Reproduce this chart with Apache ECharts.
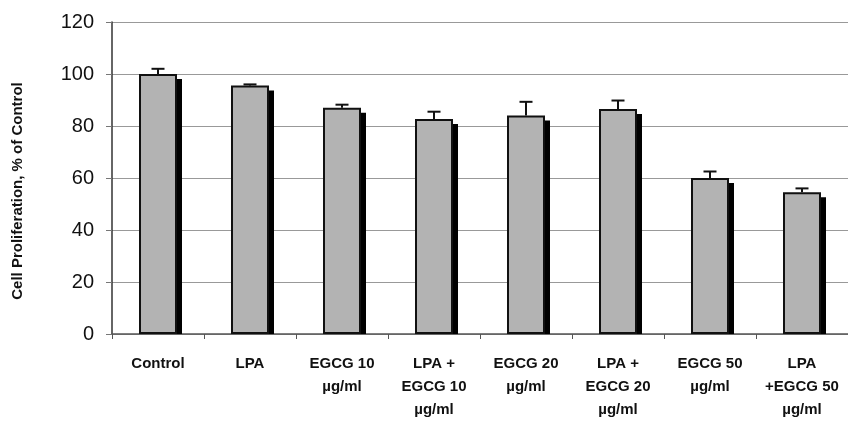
<!DOCTYPE html>
<html><head><meta charset="utf-8">
<script src="https://cdn.jsdelivr.net/npm/echarts@6/dist/echarts.min.js"></script>
<style>html,body{margin:0;padding:0;background:#fff}#c{width:848px;height:421px}</style>
</head><body><div id="c"></div>
<script>
const categories = ['Control','LPA','EGCG 10\nµg/ml','LPA +\nEGCG 10\nµg/ml','EGCG 20\nµg/ml','LPA +\nEGCG 20\nµg/ml','EGCG 50\nµg/ml','LPA\n+EGCG 50\nµg/ml'];
const values = [100, 95.6, 87, 82.7, 84, 86.5, 60, 54.5];
const errors = [2, 0.4, 1.2, 2.8, 5.3, 3.3, 2.5, 1.5];
const yTicks = [0, 20, 40, 60, 80, 100, 120];

const BAR_W = 38;
const chart = echarts.init(document.getElementById('c'));
const errData = values.map((v, i) => [i, v, v + errors[i]]);
const shadowData = values.map((v, i) => [i, v]);
chart.setOption({
  animation: false,
  grid: {left: 112, right: 0, top: 22, bottom: 83},
  graphic: [{
    type: 'text', rotation: Math.PI / 2, x: 18, y: 191,
    style: {text: 'Cell Proliferation, % of Control', font: 'bold 15px "Liberation Sans", Arial, sans-serif', fill: '#111', textAlign: 'center', textVerticalAlign: 'middle'}
  }],
  xAxis: {
    type: 'category', data: categories,
    axisLine: {lineStyle: {color: '#555', width: 1.5}},
    axisTick: {show: true, length: 5, lineStyle: {color: '#555'}},
    axisLabel: {color: '#111', fontSize: 15, fontWeight: 'bold', fontFamily: '"Liberation Sans", Arial, sans-serif', lineHeight: 23, margin: 18, interval: 0}
  },
  yAxis: {
    type: 'value', min: yTicks[0], max: yTicks[yTicks.length - 1], interval: 20,
    axisLine: {show: true, lineStyle: {color: '#333', width: 1.5}},
    axisTick: {show: true, length: 6, lineStyle: {color: '#777'}},
    axisLabel: {color: '#111', fontSize: 20, fontFamily: '"Liberation Sans", Arial, sans-serif', margin: 18},
    splitLine: {show: true, lineStyle: {color: '#999', width: 1}}
  },
  series: [{
    type: 'custom', data: shadowData, z: 1,
    renderItem: function (params, api) {
      const top = api.coord([api.value(0), api.value(1)]);
      const base = api.coord([api.value(0), 0]);
      return {type: 'rect', shape: {x: top[0] - BAR_W / 2 + 5, y: top[1] + 5, width: BAR_W, height: base[1] - top[1] - 5}, style: {fill: '#000'}};
    }
  }, {
    type: 'bar', data: values, barWidth: BAR_W,
    itemStyle: {color: '#b3b3b3', borderColor: '#111', borderWidth: 2},
    z: 2
  }, {
    type: 'custom', data: errData, z: 3,
    renderItem: function (params, api) {
      const x = api.value(0);
      const top = api.coord([x, api.value(2)]);
      const base = api.coord([x, api.value(1)]);
      const cap = 6.5;
      const st = {stroke: '#111', lineWidth: 2};
      return {type: 'group', children: [
        {type: 'line', shape: {x1: top[0], y1: top[1], x2: base[0], y2: base[1]}, style: st},
        {type: 'line', shape: {x1: top[0] - cap, y1: top[1], x2: top[0] + cap, y2: top[1]}, style: st}
      ]};
    }
  }]
});
</script></body></html>
